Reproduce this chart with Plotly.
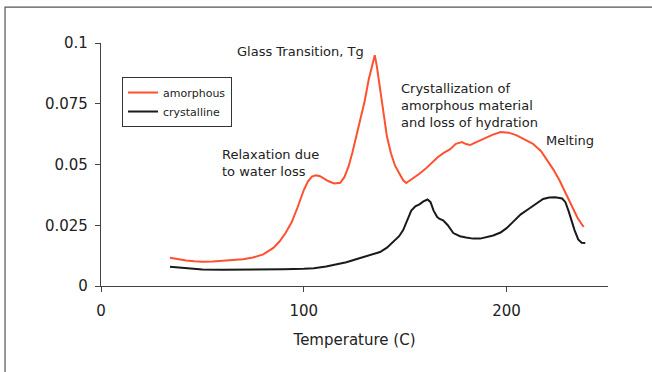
import plotly.graph_objects as go

# ---- data ----
amorphous_T = [34, 38, 42, 46, 50, 55, 60, 65, 70, 75, 80, 85, 88, 91, 94, 97, 100, 102, 104, 106,
               108, 110, 112, 115, 118, 120, 122, 124, 126, 128, 130, 132, 134, 135, 136, 137, 139,
               141, 143, 145, 147, 149, 150.5, 152, 154, 157, 160, 163, 166, 169, 172, 175, 178,
               180, 182, 184, 187, 190, 193, 197, 201, 205, 209, 213, 217, 220, 223, 226, 229,
               232, 235, 238]
amorphous_v = [0.0116, 0.0110, 0.0105, 0.0102, 0.0100, 0.0101, 0.0103, 0.0106, 0.0110, 0.0117,
               0.0130, 0.0157, 0.0183, 0.0218, 0.0262, 0.0325, 0.0395, 0.0430, 0.0450, 0.0456,
               0.0452, 0.0442, 0.0432, 0.0422, 0.0425, 0.0448, 0.0490, 0.0550, 0.0620, 0.0680,
               0.0760, 0.0850, 0.0920, 0.0950, 0.0905, 0.0850, 0.0720, 0.0615, 0.0545, 0.0495,
               0.0465, 0.0435, 0.0424, 0.0432, 0.0444, 0.0462, 0.0482, 0.0505, 0.0530, 0.0548,
               0.0562, 0.0585, 0.0592, 0.0584, 0.0580, 0.0588, 0.0600, 0.0612, 0.0622, 0.0634,
               0.0631, 0.0620, 0.0604, 0.0585, 0.0555, 0.0520, 0.0480, 0.0436, 0.0385, 0.0330,
               0.0280, 0.0243]

crystalline_T = [34, 38, 42, 46, 50, 60, 70, 80, 90, 100, 105, 111, 116, 121, 127, 132, 137.6,
                 141, 144, 147, 149, 151, 153, 155, 157, 159, 161, 162.5, 164, 165.8, 167, 168.7,
                 171, 173.7, 177, 180, 183.5, 187, 190, 193.4, 197, 200, 203.3, 207, 211, 214,
                 218, 221, 224, 227.4, 229, 230.5, 232, 233.5, 235.3, 237, 238.8]
crystalline_v = [0.0079, 0.0076, 0.0072, 0.0069, 0.0068, 0.0067, 0.0067, 0.0068, 0.0069, 0.0071,
                 0.0073, 0.0080, 0.0088, 0.0098, 0.0113, 0.0125, 0.0140, 0.0158, 0.0180, 0.0205,
                 0.0230, 0.0270, 0.0310, 0.0328, 0.0336, 0.0348, 0.0356, 0.0345, 0.0310, 0.0284,
                 0.0276, 0.0270, 0.0250, 0.0218, 0.0205, 0.0200, 0.0195, 0.0195, 0.0200, 0.0208,
                 0.0220, 0.0238, 0.0265, 0.0295, 0.0318, 0.0335, 0.0358, 0.0364, 0.0365, 0.0360,
                 0.0345, 0.0310, 0.0265, 0.0230, 0.0192, 0.0178, 0.0177]

y_tickvals = [0, 0.025, 0.05, 0.075, 0.1]
y_ticktext = ["0", "0.025", "0.05", "0.075", "0.1"]
x_tickvals = [0, 100, 200]

annotations_text = [
    ("Glass Transition, Tg", 98.2, 0.0963, "center"),
    ("Relaxation due<br>to water loss", 58.7, 0.0508, "left"),
    ("Crystallization of<br>amorphous material<br>and loss of hydration", 147, 0.0741, "left"),
    ("Melting", 218.5, 0.0597, "left"),
]

FONT = "DejaVu Sans"
AXC = "#444444"

fig = go.Figure()
fig.add_trace(go.Scatter(x=amorphous_T, y=amorphous_v, mode="lines", name="amorphous",
                         line=dict(color="#ff5030", width=2)))
fig.add_trace(go.Scatter(x=crystalline_T, y=crystalline_v, mode="lines", name="crystalline",
                         line=dict(color="#1a1a1a", width=2)))

for txt, x, y, anc in annotations_text:
    fig.add_annotation(x=x, y=y, xref="x", yref="y", text=txt, showarrow=False,
                       xanchor=anc, yanchor="middle", align="left",
                       font=dict(family=FONT, size=13, color="#222222"))

# outer frame (partly cropped in the reference)
fig.add_shape(type="rect", xref="paper", yref="paper",
              x0=-0.1893, x1=1.12, y0=-0.40, y1=1.148,
              line=dict(color="#555555", width=1.2), fillcolor="rgba(0,0,0,0)", layer="below")

fig.update_layout(
    width=652, height=372,
    margin=dict(l=101, r=44, t=43, b=86),
    paper_bgcolor="white", plot_bgcolor="white",
    font=dict(family=FONT, size=15, color="#222222"),
    showlegend=True,
    legend=dict(x=0.0414, y=0.86, xanchor="left", yanchor="top",
                bgcolor="white", bordercolor="#333333", borderwidth=1,
                font=dict(family=FONT, size=11, color="#222222"),
                itemwidth=30, tracegroupgap=0),
    xaxis=dict(range=[0, 250], tickvals=x_tickvals, showgrid=False, zeroline=False,
               showline=True, linecolor=AXC, linewidth=1.2, ticks="outside", ticklen=5,
               tickcolor=AXC, tickfont=dict(size=15), ticklabelstandoff=6,
               title=dict(text="Temperature (C)", font=dict(size=15), standoff=15)),
    yaxis=dict(range=[0, 0.1], tickvals=y_tickvals, ticktext=y_ticktext, showgrid=False,
               zeroline=False, showline=True, linecolor=AXC, linewidth=1.2, ticks="outside",
               ticklen=5, tickcolor=AXC, tickfont=dict(size=15), ticklabelstandoff=4),
)

fig.write_html("out.html")
